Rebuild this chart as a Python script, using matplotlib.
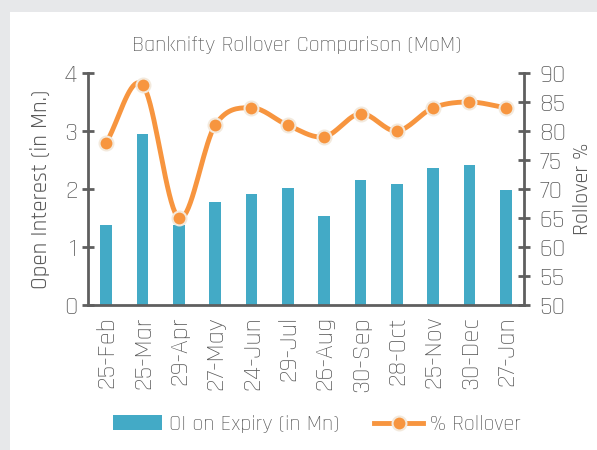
import matplotlib
matplotlib.use("Agg")
import matplotlib.pyplot as plt
import numpy as np
from matplotlib.patches import Rectangle
from matplotlib.lines import Line2D

expiry = ["25-Feb", "25-Mar", "29-Apr", "27-May", "24-Jun", "29-Jul",
          "26-Aug", "30-Sep", "28-Oct", "25-Nov", "30-Dec", "27-Jan"]
oi_mn = [1.38, 2.95, 1.38, 1.78, 1.91, 2.02, 1.53, 2.16, 2.09, 2.36, 2.41, 1.98]
rollover = [78, 88, 65, 81, 84, 81, 79, 83, 80, 84, 85, 84]

bar_col = "#43AAC6"
line_col = "#F7953F"
txt_col = "#5A5A5A"
spine_col = "#5F5F5F"

plt.rcParams['font.family'] = ['Rajdhani', 'DejaVu Sans']
plt.rcParams['font.weight'] = 300


def smooth(x, y, n=20):
    # catmull-rom style curve, like the spreadsheet "smoothed line"
    x = np.asarray(x, float)
    y = np.asarray(y, float)
    px = np.concatenate([[2 * x[0] - x[1]], x, [2 * x[-1] - x[-2]]])
    py = np.concatenate([[2 * y[0] - y[1]], y, [2 * y[-1] - y[-2]]])
    xs, ys = [], []
    t = np.linspace(0, 1, n)
    for i in range(1, len(px) - 2):
        for p, out in ((px, xs), (py, ys)):
            p0, p1, p2, p3 = p[i - 1], p[i], p[i + 1], p[i + 2]
            out.extend(0.5 * (2 * p1 + (-p0 + p2) * t
                              + (2 * p0 - 5 * p1 + 4 * p2 - p3) * t ** 2
                              + (-p0 + 3 * p1 - 3 * p2 + p3) * t ** 3))
    return np.array(xs), np.array(ys)


fig = plt.figure(figsize=(5.97, 4.5), dpi=100)
fig.patch.set_facecolor("#E7E8EA")
fig.add_artist(Rectangle((10 / 597, 0), 1, 1 - 12 / 450, transform=fig.transFigure,
                         facecolor="white", edgecolor="none", zorder=0))

ax = fig.add_axes([88 / 597, 1 - 305 / 450, 436 / 597, 232 / 450])
ax.patch.set_alpha(0)
x = np.arange(len(expiry))
ax.bar(x, oi_mn, width=0.33, color=bar_col, zorder=2)
ax.set_xlim(-0.5, len(expiry) - 0.5)
ax.set_ylim(0, 4)
ax.set_yticks([0, 1, 2, 3, 4])
ax.set_xticks(x)
ax.set_xticklabels(expiry, rotation=90)
ax.set_ylabel("Open Interest (in Mn.)", fontsize=16.5, color=txt_col, labelpad=10)

ax2 = ax.twinx()
ax2.set_ylim(50, 90)
ax2.set_yticks(range(50, 91, 5))
sx, sy = smooth(x, rollover)
ax2.plot(sx, sy, color=line_col, lw=3.5, solid_capstyle="round", zorder=3)
ax2.plot(x, rollover, "o", color=line_col, ms=10, mec="#F3E9DC", mew=1.5, zorder=4)
ax2.set_ylabel("Rollover %", fontsize=16, color=txt_col, labelpad=5)

for a in (ax, ax2):
    for s in a.spines.values():
        s.set_visible(False)
    a.tick_params(colors=txt_col, labelsize=19, width=2, length=8,
                  direction="inout", color=spine_col)
ax.spines["left"].set_visible(True)
ax.spines["bottom"].set_visible(True)
ax2.spines["right"].set_visible(True)
for s in (ax.spines["left"], ax.spines["bottom"], ax2.spines["right"]):
    s.set_color(spine_col)
    s.set_linewidth(2)
ax.tick_params(axis="x", length=0, pad=8)
ax2.tick_params(axis="y", pad=7)

fig.text(297 / 597, 1 - 45 / 450, "Banknifty Rollover Comparison (MoM)",
         ha="center", va="center", fontsize=16, color=txt_col)

handles = [Rectangle((0, 0), 1, 1, facecolor=bar_col),
           Line2D([], [], color=line_col, lw=3.5, marker="o", ms=10,
                  mec="#F3E9DC", mew=1.5)]
fig.legend(handles, ["OI on Expiry (in Mn)", "% Rollover"], loc="center",
           bbox_to_anchor=(317 / 597, 1 - 424 / 450), ncol=2, frameon=False,
           fontsize=16, labelcolor=txt_col, handlelength=2.2, columnspacing=1.6,
           handletextpad=0.3)

fig.savefig("out.png", dpi=100, facecolor=fig.get_facecolor())
